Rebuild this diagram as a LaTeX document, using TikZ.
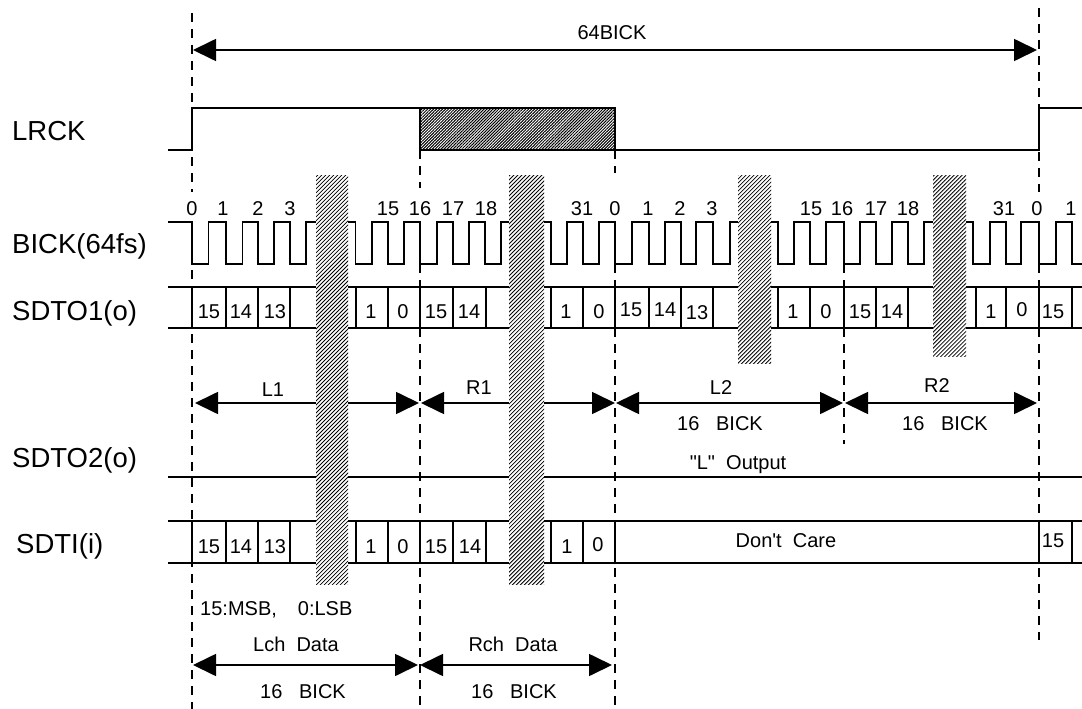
\documentclass[tikz,border=0pt]{standalone}
\usepackage{fontspec}
\setmainfont{Liberation Sans}
\newfontfamily\rawfont{Liberation Sans}
\usetikzlibrary{arrows.meta,patterns.meta}
\tikzset{
  x=1pt,y=-1pt,
  wave/.style={line width=1.6pt,black,line join=miter},
  tick/.style={line width=1.5pt,black},
  guide/.style={line width=1.4pt,black,dash pattern=on 9pt off 7pt},
  span/.style={line width=1.7pt,black,{Triangle[length=23pt,width=22pt]}-{Triangle[length=23pt,width=22pt]}},
  hatch/.style={pattern={Lines[angle=45,distance=2.83pt,line width=0.8pt]},pattern color=black},
  darkhatch/.style={pattern={Lines[angle=45,distance=2.1pt,line width=1.0pt]},pattern color=black},
  sig/.style={anchor=base west,inner sep=0pt,font=\fontsize{27.5}{30}\selectfont},
  small/.style={anchor=base,inner sep=0pt,font=\fontsize{20}{22}\selectfont},
}
\begin{document}
\begin{tikzpicture}
\useasboundingbox (0,0) rectangle (1082,709);
% guides
\coordinate (ga1) at (192,13);   \coordinate (ga2) at (192,192);
\coordinate (ga3) at (192,222);  \coordinate (ga4) at (192,709);
\coordinate (gb1) at (420,150);  \coordinate (gb2) at (420,188);
\coordinate (gb3) at (420,264);  \coordinate (gb4) at (420,709);
\coordinate (gc1) at (615,150);  \coordinate (gc2) at (615,173);
\coordinate (gc3) at (615,264);  \coordinate (gc4) at (615,709);
\coordinate (gd1) at (844,264);  \coordinate (gd2) at (844,444);
\coordinate (ge1) at (1039,8);   \coordinate (ge2) at (1039,192);
\coordinate (ge3) at (1039,264); \coordinate (ge4) at (1039,640);
\draw[guide] (ga1) -- (ga2);
\draw[guide] (ga3) -- (ga4);
\draw[guide] (gb1) -- (gb2);
\draw[guide] (gb3) -- (gb4);
\draw[guide] (gc1) -- (gc2);
\draw[guide] (gc3) -- (gc4);
\draw[guide] (gd1) -- (gd2);
\draw[guide] (ge1) -- (ge2);
\draw[guide] (ge3) -- (ge4);
% LRCK
\fill[darkhatch] (420,108) rectangle (615,150);
\draw[wave] (168,150) -- (192,150) -- (192,108) -- (615,108) -- (615,150) -- (1039,150) -- (1039,108) -- (1082,108);
\draw[wave] (420,108) -- (420,150) -- (615,150);
% BICK
\draw[wave] (168,222)
  \foreach \a/\b in {192/208.5,226/242.5,258/274,290/306,355.5/372,388/404,420/437,453/469,485/501,551/567,583/599,615/632,649/665,681/696,713/730,778/794,810/826,844/860,876/892,908/924,973/990,1006/1021,1039/1056,1072/1090}
  { -- (\a,222) -- (\a,264) -- (\b,264) -- (\b,222) };
% data rows
\foreach \t/\u in {287/328,521/563}{
  \draw[tick] (168,\t) -- (1082,\t);
  \draw[tick] (168,\u) -- (1082,\u);
}
\draw[tick] (168,477) -- (1082,477);
\foreach \v in {192,226,258,290,356,388,420,453,486,551,583,615,649,681,713,778,810,844,876,908,976,1006,1039,1072}
  \draw[tick] (\v,287) -- (\v,328);
\foreach \v in {192,226,258,290,356,388,420,453,486,551,583,615,1039,1072}
  \draw[tick] (\v,521) -- (\v,563);
% span arrows
\coordinate (a0) at (193,50);  \coordinate (a1) at (1037,50);
\coordinate (l1a) at (195,403); \coordinate (l1b) at (419,403);
\coordinate (r1a) at (421,403); \coordinate (r1b) at (615,403);
\coordinate (l2a) at (616,403); \coordinate (l2b) at (843,403);
\coordinate (r2a) at (845,403); \coordinate (r2b) at (1037,403);
\coordinate (lca) at (193,665); \coordinate (lcb) at (418,665);
\coordinate (rca) at (420,665); \coordinate (rcb) at (612,665);
\draw[span] (a0) -- (a1);
\draw[span] (l1a) -- (l1b);
\draw[span] (r1a) -- (r1b);
\draw[span] (l2a) -- (l2b);
\draw[span] (r2a) -- (r2b);
\draw[span] (lca) -- (lcb);
\draw[span] (rca) -- (rcb);
% hatch bands
\fill[white] (316,175) rectangle (348,584);
\fill[white] (509,175) rectangle (544,584);
\fill[white] (738,175) rectangle (771,363);
\fill[white] (933,175) rectangle (966,356);
\fill[hatch] (316,175) rectangle (348,584);
\fill[hatch] (509,175) rectangle (544,584);
\fill[hatch] (738,175) rectangle (771,363);
\fill[hatch] (933,175) rectangle (966,356);
% signal names
\node[sig] (sLRCK) at (12,140) {LRCK};
\node[sig] (sBICK) at (12,253) {BICK(64fs)};
\node[sig] (sTOa) at (12,320) {SDTO1(o)};
\node[sig] (sTOb) at (12,467) {SDTO2(o)};
\node[sig] (sTI) at (16,553) {SDTI(i)};
% bit numbers over the clock
\foreach \i/\x/\s in {a/192/0,b/223/1,c/258/2,d/290/3,e/388/15,f/420/16,g/453/17,h/486/18,i/582/31,j/615/0,k/648/1,l/680/2,m/712/3,n/811/15,o/842/16,p/876/17,q/908/18,r/1004/31,s/1037/0,t/1071/1}
  \node[small] (clk\i) at (\x,215) {\s};
% SDTO1 cells
\foreach \i/\x/\y/\s in {a/209/318/15,b/241/318/14,c/275/318/13,d/371/318/1,e/403/318/0,f/436/318/15,g/469/318/14,h/566/318/1,i/599/318/0,j/631/316/15,k/665/316/14,l/697/319/13,m/793/318/1,n/826/318/0,o/860/318/15,p/892/318/14,q/991/318/1,r/1022/316/0,s/1053/318/15}
  \node[small] (to\i) at (\x,\y) {\s};
% SDTI cells
\foreach \i/\x/\y/\s in {a/209/553/15,b/241/553/14,c/275/553/13,d/371/553/1,e/403/553/0,f/436/553/15,g/470/553/14,h/567/553/1,i/598/551/0,j/1053/547/15}
  \node[small] (ti\i) at (\x,\y) {\s};
% captions
\node[small] (t64) at (612,40) {64BICK};
\node[small] (tL1) at (273,396) {L1};
\node[small] (tR1) at (479,394) {R1};
\node[small] (tL2) at (721,394) {L2};
\node[small] (tR2) at (937,392) {R2};
\node[small] (tB1) at (720,430) {16\ \ \ BICK};
\node[small] (tB2) at (945,430) {16\ \ \ BICK};
\node[small] (tOut) at (738,469) {\rawfont "L"\ \ Output};
\node[small] (tCare) at (786,547) {\rawfont Don't\ \ Care};
\node[small,anchor=base west] (tMSB) at (200,615) {15:MSB,\hspace{21pt}0:LSB};
\node[small] (tLch) at (296,651) {Lch\ \ Data};
\node[small] (tRch) at (513,651) {Rch\ \ Data};
\node[small] (tB3) at (303,698) {16\ \ \ BICK};
\node[small] (tB4) at (514,698) {16\ \ \ BICK};
\end{tikzpicture}
\end{document}
